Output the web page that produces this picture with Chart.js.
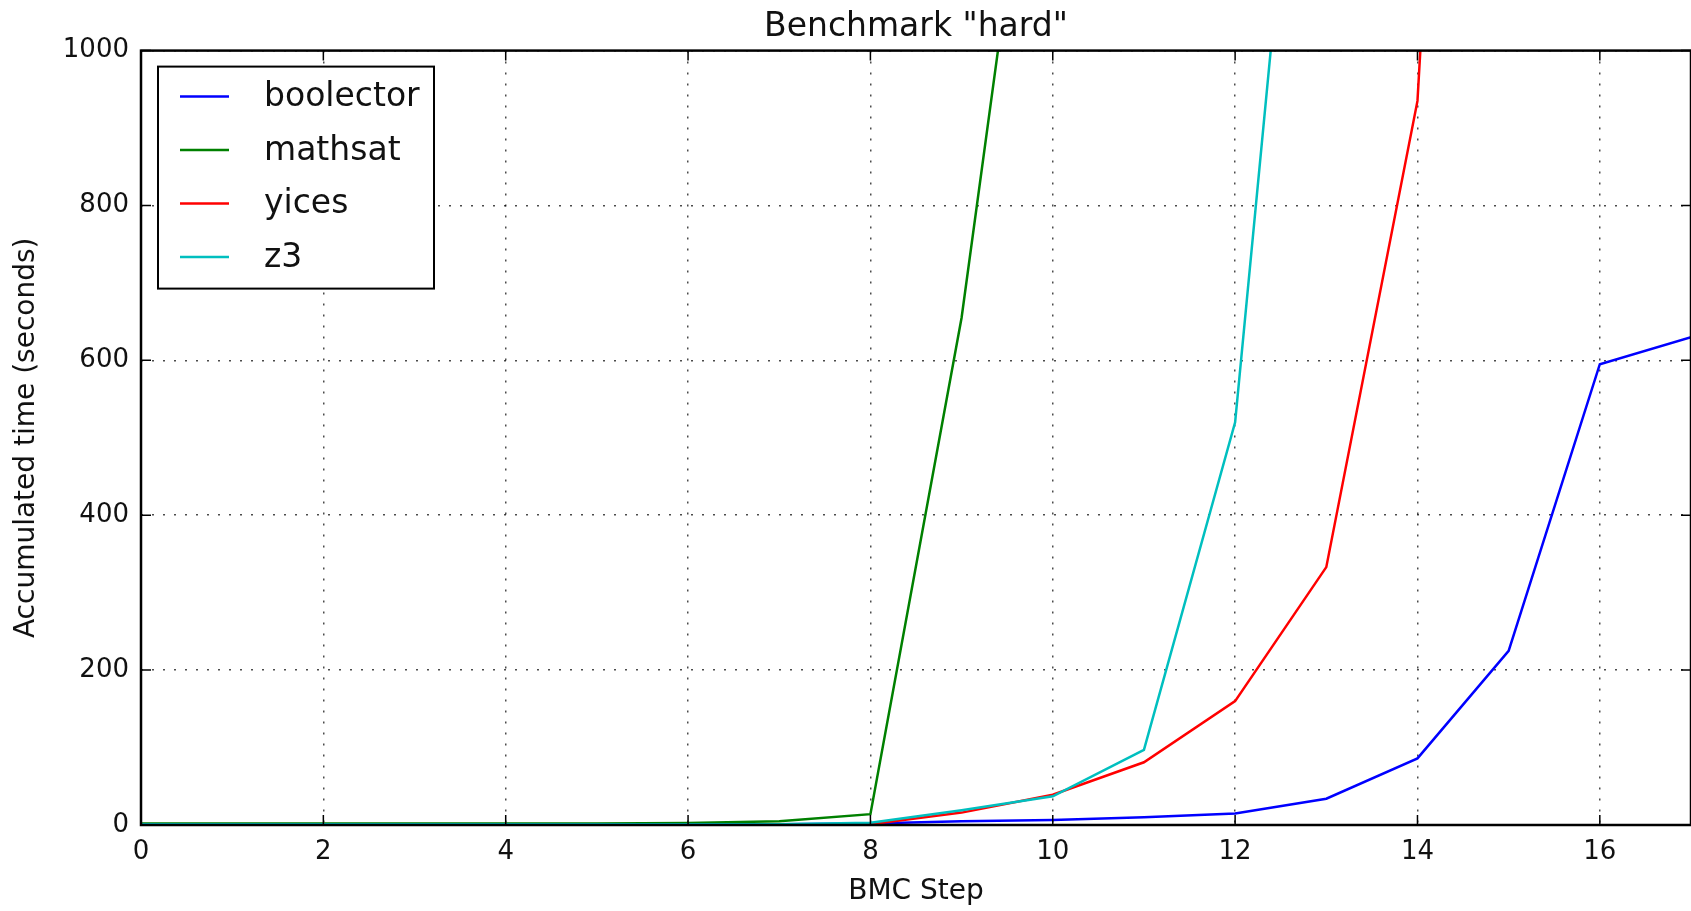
<!DOCTYPE html>
<html lang="en">
  <head>
    <meta charset="UTF-8" />
    <title>Benchmark "hard"</title>
    <script src="https://cdn.jsdelivr.net/npm/chart.js"></script>
    <style>
      html, body { margin: 0; padding: 0; background: #fff; }
      #wrap { width: 1691px; height: 911px; position: relative; }
    </style>
  </head>
  <body>
    <div id="wrap"><canvas id="hardChart"></canvas></div>
    <script>
      // BMC steps and accumulated solver time (seconds)
      const steps = [0, 1, 2, 3, 4, 5, 6, 7, 8, 9, 10, 11, 12, 13, 14, 15, 16, 17];
      const boolector = [1, 1, 1, 1, 1, 1, 1, 1, 2, 5, 6.5, 10, 15, 34, 86, 225, 595, 630];
      const mathsat = [2, 2, 2, 2, 2, 2, 2.5, 5, 14, 655, 1520];
      const yices = [0.5, 0.5, 0.5, 0.5, 0.5, 0.5, 0.5, 0.5, 1, 16, 39, 81, 160, 333, 935, 3000];
      const z3 = [1, 1, 1, 1, 1, 1, 1, 1, 3, 19, 37, 97, 520, 1750];
      const yTicks = [0, 200, 400, 600, 800, 1000];

      const seriesNames = ["boolector", "mathsat", "yices", "z3"];
      const seriesColors = ["#0000ff", "#008000", "#ff0000", "#00bfbf"];
      const seriesData = [boolector, mathsat, yices, z3];

      const FONT = "'DejaVu Sans', sans-serif";

      function toPoints(values) {
        return values.map((v, i) => ({ x: steps[i], y: v }));
      }

      // frame + inward ticks, like the matplotlib classic style
      const frameTicks = {
        id: "frameTicks",
        afterDraw(chart) {
          const { ctx, chartArea: a } = chart;
          const xs = chart.scales.x, ys = chart.scales.y;
          const len = 10;
          ctx.save();
          ctx.strokeStyle = "#000";
          ctx.lineWidth = 1.5;
          xs.ticks.forEach((t) => {
            const px = xs.getPixelForValue(t.value);
            ctx.beginPath();
            ctx.moveTo(px, a.bottom); ctx.lineTo(px, a.bottom - len);
            ctx.moveTo(px, a.top); ctx.lineTo(px, a.top + len);
            ctx.stroke();
          });
          ys.ticks.forEach((t) => {
            const py = ys.getPixelForValue(t.value);
            ctx.beginPath();
            ctx.moveTo(a.left, py); ctx.lineTo(a.left + len, py);
            ctx.moveTo(a.right, py); ctx.lineTo(a.right - len, py);
            ctx.stroke();
          });
          ctx.lineWidth = 2.5;
          ctx.strokeRect(a.left, a.top, a.right - a.left, a.bottom - a.top);
          ctx.restore();
        },
      };

      // boxed legend in the upper-left corner of the plot area
      const boxLegend = {
        id: "boxLegend",
        afterDraw(chart) {
          const { ctx, chartArea: a } = chart;
          const bx = a.left + 17, by = a.top + 16, bw = 276, bh = 222;
          ctx.save();
          ctx.fillStyle = "#fff";
          ctx.fillRect(bx, by, bw, bh);
          ctx.strokeStyle = "#000";
          ctx.lineWidth = 2;
          ctx.strokeRect(bx, by, bw, bh);
          ctx.font = "33px " + FONT;
          ctx.textBaseline = "middle";
          chart.data.datasets.forEach((ds, i) => {
            const y = by + 30 + i * 53.5;
            ctx.strokeStyle = ds.borderColor;
            ctx.lineWidth = 2.5;
            ctx.beginPath();
            ctx.moveTo(bx + 22, y); ctx.lineTo(bx + 71, y);
            ctx.stroke();
            ctx.fillStyle = "#111";
            ctx.fillText(ds.label, bx + 106, y + 1);
          });
          ctx.restore();
        },
      };

      const datasets = seriesNames.map((name, i) => ({
        label: name,
        data: toPoints(seriesData[i]),
        borderColor: seriesColors[i],
        backgroundColor: seriesColors[i],
        borderWidth: 2.5,
        pointRadius: 0,
        tension: 0,
        fill: false,
        order: seriesNames.length - i,
      }));

      new Chart(document.getElementById("hardChart"), {
        type: "line",
        data: { datasets: datasets },
        options: {
          responsive: true,
          maintainAspectRatio: false,
          animation: false,
          layout: { padding: 0 },
          plugins: {
            legend: { display: false },
            tooltip: { enabled: false },
            title: {
              display: true,
              fullSize: false,
              text: 'Benchmark "hard"',
              color: "#111",
              font: { family: FONT, size: 33, weight: "normal" },
              padding: { top: 8, bottom: 3 },
            },
          },
          scales: {
            x: {
              type: "linear",
              min: 0,
              max: 17,
              ticks: {
                stepSize: 2,
                color: "#111",
                padding: 12,
                font: { family: FONT, size: 26 },
              },
              afterBuildTicks(scale) {
                scale.ticks = scale.ticks.filter((t) => t.value % 2 === 0);
              },
              grid: {
                color: "rgba(0,0,0,0.7)",
                lineWidth: 1.5,
                drawTicks: false,
              },
              border: { display: false, dash: [2, 9] },
              title: {
                display: true,
                text: "BMC Step",
                color: "#111",
                font: { family: FONT, size: 28 },
                padding: { top: 0, bottom: 2 },
              },
              afterFit(scale) { scale.height = 86; },
            },
            y: {
              min: 0,
              max: 1000,
              afterBuildTicks(scale) {
                scale.ticks = yTicks.map((v) => ({ value: v }));
              },
              ticks: {
                color: "#111",
                padding: 12,
                font: { family: FONT, size: 26 },
                callback: (v) => String(v),
              },
              grid: {
                color: "rgba(0,0,0,0.7)",
                lineWidth: 1.5,
                drawTicks: false,
              },
              border: { display: false, dash: [2, 9] },
              title: {
                display: true,
                text: "Accumulated time (seconds)",
                color: "#111",
                font: { family: FONT, size: 28 },
                padding: { top: 10, bottom: 0 },
              },
              afterFit(scale) { scale.width = 141; },
            },
          },
        },
        plugins: [frameTicks, boxLegend],
      });
    </script>
  </body>
</html>
